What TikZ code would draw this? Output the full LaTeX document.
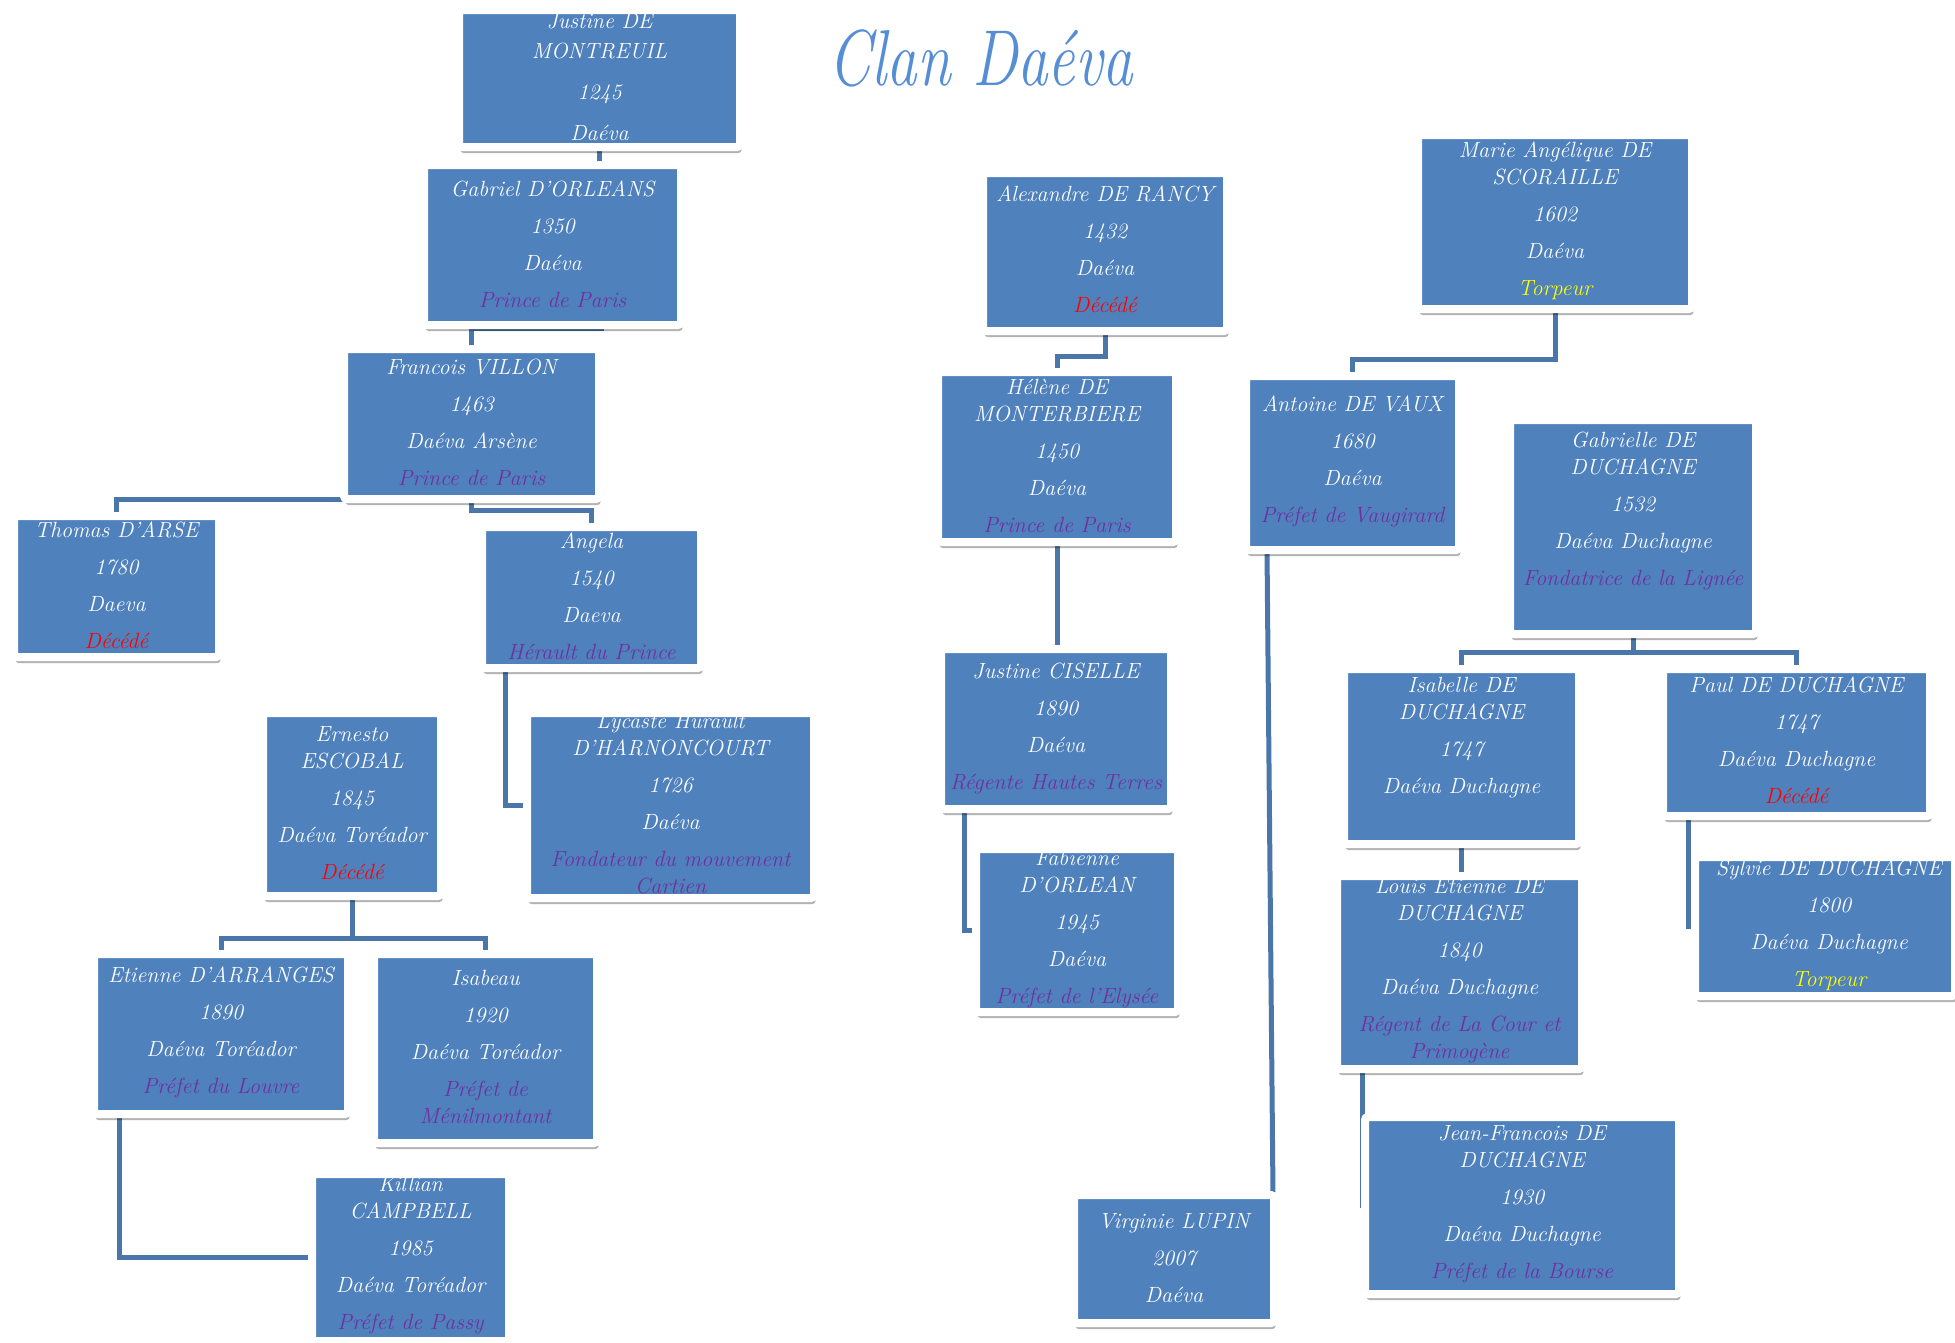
\documentclass[tikz,border=0pt]{standalone}
\usepackage{fontspec}
\usetikzlibrary{shadows,calc}
\pgfdeclarelayer{background}
\pgfsetlayers{background,main}
\definecolor{boxblue}{HTML}{4F81BD}
\definecolor{rolep}{HTML}{7030A0}
\definecolor{deadred}{HTML}{FF0000}
\definecolor{torpy}{HTML}{FFFF00}
\definecolor{titleblue}{HTML}{558ED5}
\definecolor{linkblue}{HTML}{4A76AA}
\newcommand\rolet[1]{\textcolor{rolep}{#1}}
\newcommand\decd[1]{\textcolor{deadred}{#1}}
\newcommand\torp[1]{\textcolor{torpy}{#1}}
\newcommand\personbox[5]{%
  \node[person, minimum width={#4-#2+8}, minimum height={#5-#3+8}] (#1) at ({(#2+#4)/2},{(#3+#5)/2}) {};}
\tikzset{
  person/.style={fill=boxblue, draw=white, line width=8pt, rounded corners=3pt,
    inner sep=0pt, outer sep=0pt,
    drop shadow={shadow xshift=1.5pt, shadow yshift=-6pt, opacity=0.3, fill=black}},
  ptext/.style={text=white, align=center, inner sep=0pt,
    font=\fontsize{22}{27}\selectfont\itshape},
  link/.style={draw=linkblue, line width=5pt},
}
\begin{document}
\begin{tikzpicture}[x=1pt,y=-1pt]
\path[use as bounding box] (0,0) rectangle (1955,1342);

% title
\node[font=\fontsize{61}{61}\selectfont\itshape, text=titleblue, inner sep=0pt] (title) at (981,58) {\scalebox{1}[1.3]{Clan Daéva}};

% boxes
\personbox{jdm}{463}{14}{736}{143}
\personbox{gdo}{428}{169}{677}{321}
\personbox{fv}{348}{353}{595}{495}
\personbox{thomas}{18}{520}{215}{653}
\personbox{angela}{486}{531}{697}{664}
\personbox{ernesto}{267}{717}{437}{892}
\personbox{lycaste}{531}{717}{810}{894}
\personbox{etienne}{98}{958}{344}{1110}
\personbox{isabeau}{378}{958}{593}{1139}
\personbox{killian}{316}{1178}{505}{1337}
\personbox{alex}{987}{177}{1223}{327}
\personbox{helene}{942}{376}{1172}{538}
\personbox{jc}{945}{653}{1167}{805}
\personbox{fab}{980}{853}{1174}{1008}
\personbox{virginie}{1078}{1199}{1270}{1319}
\personbox{ma}{1422}{139}{1688}{305}
\personbox{antoine}{1250}{380}{1455}{546}
\personbox{gab}{1514}{424}{1752}{630}
\personbox{isabelle}{1348}{673}{1575}{840}
\personbox{paul}{1667}{673}{1926}{812}
\personbox{louis}{1341}{880}{1578}{1065}
\personbox{sylvie}{1699}{861}{1951}{992}
\personbox{jf}{1369}{1121}{1675}{1290}

% texts
\node[ptext] (t1) at (599.5,77) {Justine DE\\[3pt]MONTREUIL\\[14pt]1245\\[14pt]Daéva};
\node[ptext] (t2) at (552.5,244) {Gabriel D’ORLEANS\\[10pt]1350\\[10pt]Daéva\\[10pt]\rolet{Prince de Paris}};
\node[ptext] (t3) at (471.5,422) {Francois VILLON\\[10pt]1463\\[10pt]Daéva Arsène\\[10pt]\rolet{Prince de Paris}};
\node[ptext] (t4) at (116.5,585) {Thomas D’ARSE\\[10pt]1780\\[10pt]Daeva\\[10pt]\decd{Décédé}};
\node[ptext] (t5) at (591.5,596) {Angela\\[10pt]1540\\[10pt]Daeva\\[10pt]\rolet{Hérault du Prince}};
\node[ptext] (t6) at (352,803) {Ernesto\\ESCOBAL\\[10pt]1845\\[10pt]Daéva Toréador\\[10pt]\decd{Décédé}};
\node[ptext] (t7) at (670.5,804) {Lycaste Hurault\\D'HARNONCOURT\\[10pt]1726\\[10pt]Daéva\\[10pt]\rolet{Fondateur du mouvement}\\\rolet{Cartien}};
\node[ptext] (t8) at (221,1032) {Etienne D'ARRANGES\\[10pt]1890\\[10pt]Daéva Toréador\\[10pt]\rolet{Préfet du Louvre}};
\node[ptext] (t9) at (485.5,1047) {Isabeau\\[10pt]1920\\[10pt]Daéva Toréador\\[10pt]\rolet{Préfet de}\\\rolet{Ménilmontant}};
\node[ptext] (t10) at (410.5,1255) {Killian\\CAMPBELL\\[10pt]1985\\[10pt]Daéva Toréador\\[10pt]\rolet{Préfet de Passy}};
\node[ptext] (t11) at (1105,249.5) {Alexandre DE RANCY\\[10pt]1432\\[10pt]Daéva\\[10pt]\decd{Décédé}};
\node[ptext] (t12) at (1057,456) {Hélène DE\\MONTERBIERE\\[10pt]1450\\[10pt]Daéva\\[10pt]\rolet{Prince de Paris}};
\node[ptext] (t13) at (1056,728) {Justine CISELLE\\[10pt]1890\\[10pt]Daéva\\[10pt]\rolet{Régente Hautes Terres}};
\node[ptext] (t14) at (1077,929.5) {Fabienne\\D'ORLEAN\\[10pt]1945\\[10pt]Daéva\\[10pt]\rolet{Préfet de l'Elysée}};
\node[ptext] (t15) at (1174,1258) {Virginie LUPIN\\[10pt]2007\\[10pt]Daéva};
\node[ptext] (t16) at (1555,221) {Marie Angélique DE\\SCORAILLE\\[10pt]1602\\[10pt]Daéva\\[10pt]\torp{Torpeur}};
\node[ptext] (t17) at (1352.5,461) {Antoine DE VAUX\\[10pt]1680\\[10pt]Daéva\\[10pt]\rolet{Préfet de Vaugirard}};
\node[ptext] (t18) at (1633,511) {Gabrielle DE\\DUCHAGNE\\[10pt]1532\\[10pt]Daéva Duchagne\\[10pt]\rolet{Fondatrice de la Lignée}};
\node[ptext] (t19) at (1461.5,738) {Isabelle DE\\DUCHAGNE\\[10pt]1747\\[10pt]Daéva Duchagne};
\node[ptext] (t20) at (1796.5,740.6) {Paul DE DUCHAGNE\\[10pt]1747\\[10pt]Daéva Duchagne\\[10pt]\decd{Décédé}};
\node[ptext] (t21) at (1459.5,970.6) {Louis Etienne DE\\DUCHAGNE\\[10pt]1840\\[10pt]Daéva Duchagne\\[10pt]\rolet{Régent de La Cour et}\\\rolet{Primogène}};
\node[ptext] (t22) at (1829,925) {Sylvie DE DUCHAGNE\\[10pt]1800\\[10pt]Daéva Duchagne\\[10pt]\torp{Torpeur}};
\node[ptext] (t23) at (1522,1204.4) {Jean-Francois DE\\DUCHAGNE\\[10pt]1930\\[10pt]Daéva Duchagne\\[10pt]\rolet{Préfet de la Bourse}};

% connectors
\begin{pgfonlayer}{background}
\draw[link] (jdm.south) -- (jdm.south |- gdo.north);
\draw[link] ($(gdo.south)+(48.5,0)$) -- ++(0,3) -| (fv.north);
\draw[link] (fv.south west) -| (thomas.north);
\draw[link] (fv.south) -- ++(0,11) -| (angela.north);
\draw[link] ($(angela.south west)+(23,0)$) |- (lycaste.west);
\draw[link] (ernesto.south) -- ++(0,42) coordinate (e1) -| (etienne.north);
\draw[link] (e1) -| (isabeau.north);
\draw[link] ($(etienne.south west)+(25,0)$) |- (killian.west);
\draw[link] (alex.south) -- ++(0,25) -| (helene.north);
\draw[link] (helene.south) -- (helene.south |- jc.north);
\draw[link] ($(jc.south west)+(23.5,0)$) |- (fab.west);
\draw[link] (ma.south) -- ++(0,50) -| (antoine.north);
\draw[link] ($(antoine.south west)+(21,0)$) -- ($(virginie.north east)+(-1,0)$);
\draw[link] (gab.south) -- ++(0,18) coordinate (g1) -| (isabelle.north);
\draw[link] (g1) -| (paul.north);
\draw[link] (isabelle.south) -- (isabelle.south |- louis.north);
\draw[link] ($(paul.south west)+(25.5,0)$) |- (sylvie.west);
\draw[link] ($(louis.south west)+(25,0)$) |- (jf.west);
\end{pgfonlayer}
\end{tikzpicture}
\end{document}
